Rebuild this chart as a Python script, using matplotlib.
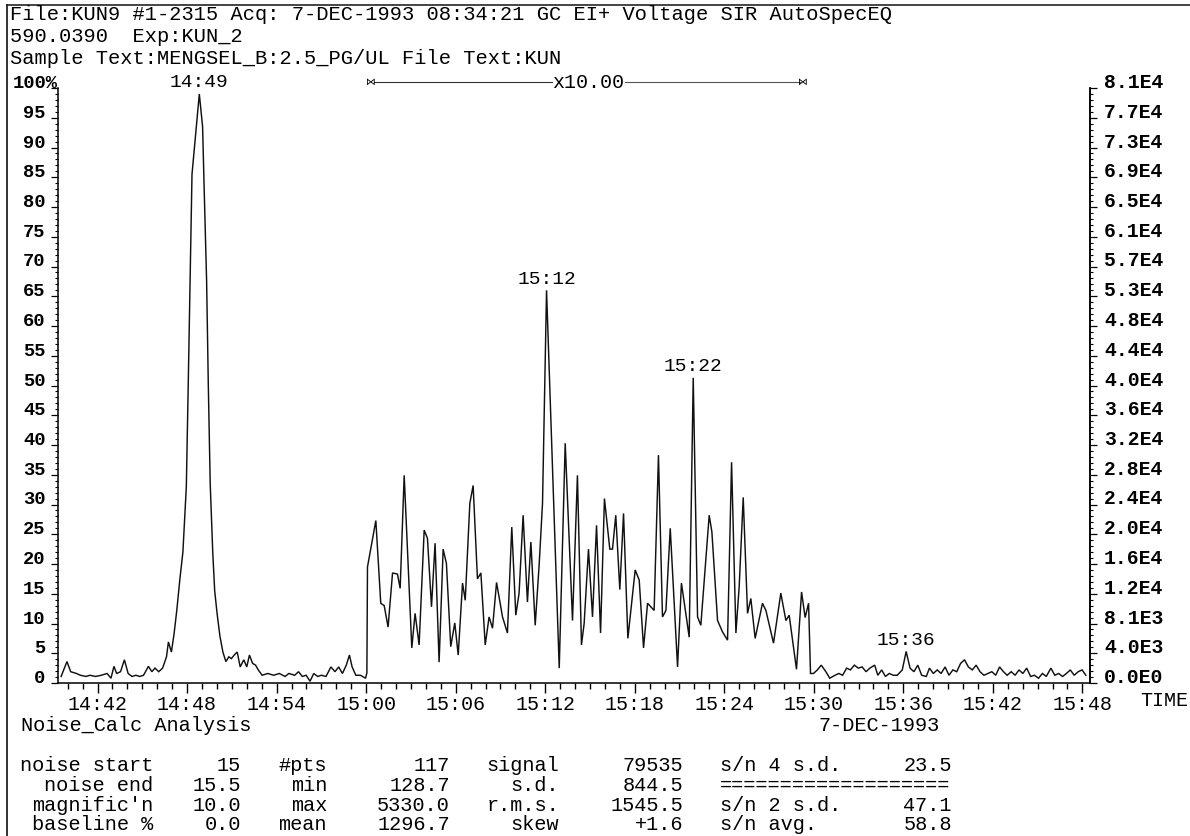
import matplotlib
matplotlib.use("Agg")
import matplotlib.pyplot as plt
import matplotlib.transforms as mtransforms
from matplotlib.lines import Line2D
from matplotlib.ticker import FixedLocator, MultipleLocator

# ---------------------------------------------------------------- data
# retention time (minutes after 14:00) and relative intensity (%)
pre_time = [39.56, 39.95, 40.20, 40.59, 40.85, 41.23, 41.48, 41.87, 42.25, 42.64,
            42.90, 43.10, 43.28, 43.54, 43.80, 44.05, 44.31, 44.57, 44.82, 45.08,
            45.41, 45.64, 45.85, 46.10, 46.36, 46.62, 46.75, 46.95, 47.13, 47.31,
            47.52, 47.72, 47.95, 48.08, 48.33, 48.55, 48.82, 49.04, 49.13, 49.31,
            49.42, 49.55, 49.72, 49.85, 50.02, 50.20, 50.40, 50.60, 50.80, 50.97,
            51.16, 51.36, 51.56, 51.80, 52.00, 52.18, 52.39, 52.59, 52.77, 53.03,
            53.41, 53.80, 54.18, 54.57, 54.82, 55.21, 55.47, 55.72, 55.98, 56.24,
            56.49, 56.75, 57.01, 57.31, 57.64, 57.91, 58.16, 58.41, 58.67, 58.88,
            59.06, 59.31, 59.62, 59.96, 60.05]
pre_int = [1.1, 3.6, 1.9, 1.6, 1.3, 1.1, 1.3, 1.1, 1.3, 1.6,
           0.8, 2.8, 1.6, 1.9, 3.9, 1.6, 1.1, 1.3, 1.1, 1.3,
           2.8, 1.9, 2.5, 1.9, 2.5, 4.4, 6.9, 5.2, 8.3, 12.2,
           17.5, 22.0, 33.0, 50.5, 85.5, 91.5, 99.0, 93.5, 84.5, 67.5,
           50.5, 33.5, 22.0, 15.5, 11.5, 7.9, 5.2, 3.6, 4.4, 4.1,
           4.7, 5.2, 2.7, 3.9, 2.7, 4.7, 3.3, 3.0, 2.2, 1.3,
           1.6, 1.3, 1.6, 1.1, 1.6, 1.3, 1.9, 1.1, 1.3, 0.3,
           1.6, 1.1, 1.3, 1.1, 2.7, 1.9, 2.7, 1.6, 3.0, 4.7,
           2.7, 1.3, 1.3, 0.8, 1.7]

# x10 magnified window (15:00 - 15:30)
mag_time = [60.09, 60.65, 60.98, 61.21, 61.47, 61.77, 62.10, 62.28, 62.55, 63.06,
            63.28, 63.55, 63.89, 64.11, 64.38, 64.62, 64.89, 65.16, 65.38, 65.67,
            65.94, 66.17, 66.46, 66.64, 66.95, 67.17, 67.46, 67.69, 67.98, 68.24,
            68.47, 68.74, 69.14, 69.47, 69.76, 70.03, 70.25, 70.52, 70.81, 71.04,
            71.33, 71.60, 71.82, 72.09, 72.94, 73.34, 73.83, 74.16, 74.43, 74.61,
            74.90, 75.17, 75.44, 75.71, 75.97, 76.33, 76.51, 76.73, 77.00, 77.25,
            77.54, 78.03, 78.30, 78.59, 78.86, 79.30, 79.59, 79.86, 80.09, 80.38,
            80.87, 81.13, 81.65, 81.92, 82.21, 82.43, 82.99, 83.17, 83.55, 83.88,
            84.22, 84.49, 84.78, 85.00, 85.27, 85.56, 85.78, 86.07, 86.56, 86.79,
            87.30, 87.79, 88.13, 88.35, 88.84, 89.18, 89.42, 89.65, 89.78]
mag_int = [19.5, 27.3, 13.4, 13.0, 9.4, 18.5, 18.3, 15.9, 34.9, 5.9,
           11.7, 6.4, 25.7, 24.3, 12.8, 23.5, 3.5, 22.5, 20.1, 6.1,
           10.1, 4.7, 16.8, 13.9, 30.2, 33.2, 17.5, 18.5, 6.4, 11.1,
           9.2, 16.9, 11.1, 8.4, 26.2, 11.4, 15.1, 28.2, 13.6, 23.7,
           9.7, 20.1, 30.2, 66.0, 2.5, 40.3, 10.5, 34.9, 6.4, 10.0,
           22.5, 11.1, 26.5, 8.4, 31.0, 22.5, 22.5, 28.2, 15.7, 28.5,
           7.5, 19.0, 17.3, 5.9, 13.4, 12.2, 38.3, 11.1, 12.2, 26.0,
           2.7, 16.8, 7.7, 51.3, 11.1, 9.7, 28.2, 25.4, 10.5, 8.6,
           7.2, 37.1, 8.4, 16.2, 31.2, 11.7, 14.2, 7.5, 13.4, 12.2,
           6.7, 15.1, 10.5, 11.4, 2.3, 15.3, 11.0, 13.4, 1.6]

post_time = [89.98, 90.24, 90.50, 90.81, 91.07, 91.42, 91.68, 91.93, 92.20, 92.45,
             92.72, 92.98, 93.24, 93.50, 93.76, 94.08, 94.29, 94.55, 94.80, 95.06,
             95.33, 95.59, 95.93, 96.19, 96.45, 96.71, 96.97, 97.23, 97.54, 97.75,
             98.01, 98.27, 98.53, 98.80, 99.06, 99.32, 99.58, 99.84, 100.10, 100.36,
             100.62, 100.88, 101.14, 101.40, 101.66, 101.93, 102.19, 102.45, 102.71, 102.96,
             103.23, 103.49, 103.75, 104.01, 104.27, 104.53, 104.79, 105.06, 105.32, 105.58,
             105.89, 106.15, 106.41, 106.67, 106.93, 107.19, 107.45, 107.72, 107.98, 108.23]
post_int = [1.6, 2.2, 3.0, 1.9, 0.8, 1.3, 1.6, 1.3, 2.5, 2.2,
            3.0, 2.5, 2.7, 1.9, 2.5, 3.0, 1.3, 2.2, 1.1, 1.6,
            1.3, 1.3, 2.2, 5.3, 2.5, 1.9, 3.0, 1.3, 1.1, 2.5,
            1.6, 2.2, 1.6, 2.7, 1.3, 2.2, 1.9, 3.3, 3.9, 2.7,
            2.2, 3.0, 1.9, 1.3, 1.6, 1.9, 1.3, 2.7, 1.9, 1.3,
            1.9, 1.3, 2.2, 1.6, 2.5, 1.1, 1.3, 0.8, 1.6, 1.1,
            2.5, 1.3, 1.6, 1.1, 1.6, 2.2, 1.3, 1.9, 2.2, 1.3]

peak_labels = ["14:49", "15:12", "15:22", "15:36"]

time_ticks = ["14:42", "14:48", "14:54", "15:00", "15:06", "15:12",
              "15:18", "15:24", "15:30", "15:36", "15:42", "15:48"]
pct_ticks = [0, 5, 10, 15, 20, 25, 30, 35, 40, 45, 50,
             55, 60, 65, 70, 75, 80, 85, 90, 95, 100]
abs_labels = ["0.0E0", "4.0E3", "8.1E3", "1.2E4", "1.6E4", "2.0E4", "2.4E4",
              "2.8E4", "3.2E4", "3.6E4", "4.0E4", "4.4E4", "4.8E4", "5.3E4",
              "5.7E4", "6.1E4", "6.5E4", "6.9E4", "7.3E4", "7.7E4", "8.1E4"]

magnify_window = ("15:00", "15:29")
magnify_text = "x10.00"

header_lines = [
    "File:KUN9 #1-2315 Acq: 7-DEC-1993 08:34:21 GC EI+ Voltage SIR AutoSpecEQ",
    "590.0390  Exp:KUN_2",
    "Sample Text:MENGSEL_B:2.5_PG/UL File Text:KUN",
]
analysis_title = "Noise_Calc Analysis"
run_date = "7-DEC-1993"

col1_names = ["noise start", "noise end", "magnific'n", "baseline %"]
col1_vals = ["15", "15.5", "10.0", "0.0"]
col2_names = ["#pts", "min", "max", "mean"]
col2_vals = ["117", "128.7", "5330.0", "1296.7"]
col3_names = ["signal", "s.d.", "r.m.s.", "skew"]
col3_vals = ["79535", "844.5", "1545.5", "+1.6"]
col4_names = ["s/n 4 s.d.", "===================", "s/n 2 s.d.", "s/n avg."]
col4_vals = ["23.5", "", "47.1", "58.8"]

# ---------------------------------------------------------------- helpers
W, H = 1190, 836
MONO = "Liberation Mono"


def fx(px):
    return px / W


def fy(py):
    return 1 - py / H


def hhmm(s):
    h, m = s.split(":")
    return (int(h) - 14) * 60 + int(m)


# ---------------------------------------------------------------- figure
fig = plt.figure(figsize=(W / 100, H / 100), dpi=100, facecolor="white")
ax_l, ax_r, ax_t, ax_b = 58, 1090, 88, 683
ax = fig.add_axes([fx(ax_l), fy(ax_b), fx(ax_r - ax_l), (ax_b - ax_t) / H])

time = pre_time + mag_time + post_time
inten = pre_int + mag_int + post_int
ax.plot(time, inten, color="#111111", lw=1.05, solid_joinstyle="miter")

ax.set_xlim(39.35, 108.51)
ax.set_ylim(0, 100)

ax.spines["top"].set_visible(False)
for side in ("left", "right", "bottom"):
    ax.spines[side].set_linewidth(1.1)

# x axis: labelled every 6 min, minor every minute
ax.xaxis.set_major_locator(FixedLocator([hhmm(t) for t in time_ticks]))
ax.set_xticklabels(time_ticks, family=MONO, fontsize=14.4)
ax.xaxis.set_minor_locator(MultipleLocator(1))
ax.tick_params(axis="x", which="major", direction="out", length=7, width=1.0, pad=2)
ax.tick_params(axis="x", which="minor", direction="out", length=4, width=1.0)

# left axis (percent)
ax.yaxis.set_major_locator(FixedLocator(pct_ticks))
ax.set_yticklabels([str(v) if v < 100 else "" for v in pct_ticks],
                   family=MONO, fontsize=13.5, fontweight="bold")
ax.yaxis.set_minor_locator(MultipleLocator(1))
ax.tick_params(axis="y", which="major", direction="out", length=5, width=0.9, pad=4)
ax.tick_params(axis="y", which="minor", direction="out", length=2.5, width=0.8)
for lab in ax.get_yticklabels():
    lab.set_va("baseline")
fig.text(fx(13), fy(ax_t), "100%", family=MONO, fontsize=13.5,
         fontweight="bold", ha="left", va="baseline")

# right axis (absolute counts)
ax2 = ax.twinx()
ax2.set_ylim(0, 100)
for side in ("top", "left", "bottom"):
    ax2.spines[side].set_visible(False)
ax2.spines["right"].set_linewidth(1.1)
ax2.yaxis.set_major_locator(FixedLocator(pct_ticks))
ax2.set_yticklabels(abs_labels, family=MONO, fontsize=14.2, fontweight="bold")
ax2.yaxis.set_minor_locator(MultipleLocator(1))
ax2.tick_params(axis="y", which="major", direction="out", length=5, width=0.9, pad=5)
ax2.tick_params(axis="y", which="minor", direction="out", length=2.5, width=0.8)
for lab in ax2.get_yticklabels():
    lab.set_va("baseline")

# peak retention-time labels, placed at the local maximum of the trace
for lab in peak_labels:
    t0 = hhmm(lab)
    cand = [(v, t) for t, v in zip(time, inten) if abs(t - t0) <= 0.6]
    v, t = max(cand)
    ax.annotate(lab, xy=(t, v), xytext=(0, 8), textcoords="offset points",
                ha="center", va="center", family=MONO, fontsize=14,
                annotation_clip=False)

# magnification bar across the top
blend = mtransforms.blended_transform_factory(ax.transData, fig.transFigure)
m0, m1 = hhmm(magnify_window[0]), hhmm(magnify_window[1]) + 0.3
mc = (m0 + m1) / 2 + 0.25
half = 2.45
yb = fy(82)
ax.plot([m0 + 0.5, mc - half], [yb, yb], color="#333333", lw=0.8,
        transform=blend, clip_on=False)
ax.plot([mc + half, m1 - 0.2], [yb, yb], color="#555555", lw=0.8,
        transform=blend, clip_on=False)
ax.text(mc, yb, magnify_text, transform=blend, ha="center", va="center",
        family=MONO, fontsize=14.4)
for mx in (m0 + 0.3, m1):
    ax.text(mx, yb, "\u22c8", transform=blend, ha="center", va="center",
            family="DejaVu Sans", fontsize=7)

# header block
for i, line in enumerate(header_lines):
    fig.text(fx(10), fy(15 + 22 * i), line, family=MONO, fontsize=14.7,
             ha="left", va="center")

# axis caption and date
fig.text(fx(1140), fy(700), "TIME", family=MONO, fontsize=14.4,
         ha="left", va="center")
fig.text(fx(21), fy(731), analysis_title, family=MONO, fontsize=14.6,
         ha="left", va="baseline")
fig.text(fx(819), fy(731), run_date, family=MONO, fontsize=14.6,
         ha="left", va="baseline")

# noise statistics table
row_base = [771, 791, 811, 830]
cols = [
    (col1_names, 153, "right"), (col1_vals, 241, "right"),
    (col2_names, 327, "right"), (col2_vals, 450, "right"),
    (col3_names, 559, "right"), (col3_vals, 683, "right"),
    (col4_names, 720, "left"), (col4_vals, 952, "right"),
]
for texts, xpos, ha in cols:
    for txt, yy in zip(texts, row_base):
        fig.text(fx(xpos), fy(yy), txt, family=MONO, fontsize=14.6,
                 ha=ha, va="baseline")

# page border
fig.add_artist(Line2D([fx(7), 1.0], [fy(5), fy(5)], color="#444444", lw=1.4))
fig.add_artist(Line2D([fx(7), fx(7)], [fy(5), 0.0], color="#222222", lw=1.3))

fig.savefig("out.png", dpi=100, facecolor="white")
